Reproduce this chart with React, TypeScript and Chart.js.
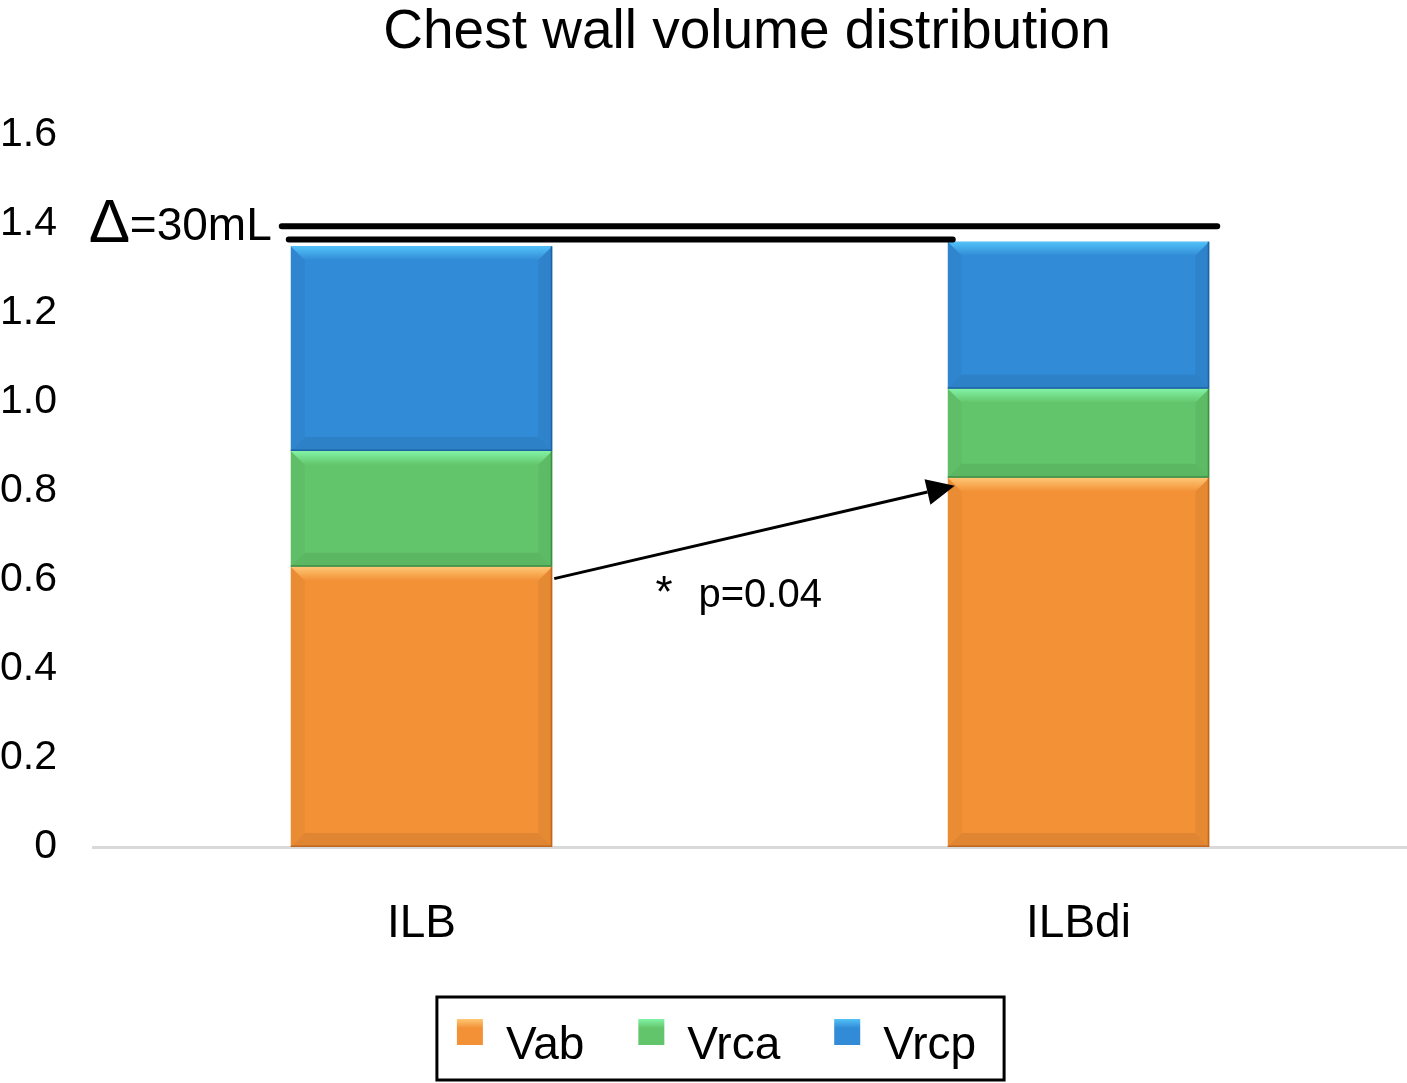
import { useEffect, useRef } from "react";
import { Chart, registerables, type Plugin } from "chart.js";

Chart.register(...registerables);

const FONT = "'Liberation Sans', Arial, Helvetica, sans-serif";

/* data (litres) */
const categories = ["ILB", "ILBdi"];
const seriesNames = ["Vab", "Vrca", "Vrcp"];
const vab = [0.63, 0.83];
const vrca = [0.26, 0.2];
const vrcp = [0.46, 0.33];
const yMax = 1.6;
const yStep = 0.2;
const deltaLevels = [1.395, 1.365]; // the two total lines
const deltaSymbol = "Δ";
const deltaText = "=30mL";
const starText = "*";
const pText = "p=0.04";
const titleText = "Chest wall volume distribution";

/* bevelled office-style fills */
const PALETTE = [
  { base: "#f29136", light: "#ffc775", dark: "#c0671f" },
  { base: "#63c56b", light: "#82f3a6", dark: "#3b8f44" },
  { base: "#318bd6", light: "#52c2f8", dark: "#1d62a3" },
];

type BarProps = { x: number; y: number; base: number; width: number };

function barRect(el: any) {
  const p = el.getProps(["x", "y", "base", "width"], true) as BarProps;
  return {
    l: p.x - p.width / 2,
    r: p.x + p.width / 2,
    t: Math.min(p.y, p.base),
    b: Math.max(p.y, p.base),
  };
}

const bevelPlugin: Plugin<"bar"> = {
  id: "bevel",
  afterDatasetsDraw(chart) {
    const ctx = chart.ctx;
    const e = 14;
    chart.data.datasets.forEach((_ds, di) => {
      const pal = PALETTE[di];
      chart.getDatasetMeta(di).data.forEach((el) => {
        const { l, r, t, b } = barRect(el);
        ctx.save();
        const g = ctx.createLinearGradient(0, t, 0, t + e);
        g.addColorStop(0, pal.light);
        g.addColorStop(1, pal.base);
        ctx.fillStyle = g;
        ctx.beginPath();
        ctx.moveTo(l, t);
        ctx.lineTo(r, t);
        ctx.lineTo(r - e, t + e);
        ctx.lineTo(l + e, t + e);
        ctx.closePath();
        ctx.fill();

        ctx.fillStyle = "rgba(0,0,0,0.03)";
        ctx.beginPath();
        ctx.moveTo(l, t);
        ctx.lineTo(l + e, t + e);
        ctx.lineTo(l + e, b - e);
        ctx.lineTo(l, b);
        ctx.closePath();
        ctx.fill();

        ctx.fillStyle = "rgba(0,0,0,0.05)";
        ctx.beginPath();
        ctx.moveTo(r, t);
        ctx.lineTo(r - e, t + e);
        ctx.lineTo(r - e, b - e);
        ctx.lineTo(r, b);
        ctx.closePath();
        ctx.fill();

        ctx.fillStyle = "rgba(0,0,0,0.07)";
        ctx.beginPath();
        ctx.moveTo(l, b);
        ctx.lineTo(l + e, b - e);
        ctx.lineTo(r - e, b - e);
        ctx.lineTo(r, b);
        ctx.closePath();
        ctx.fill();

        ctx.strokeStyle = pal.dark;
        ctx.lineWidth = 1.5;
        ctx.beginPath();
        ctx.moveTo(r - 0.75, t);
        ctx.lineTo(r - 0.75, b - 0.75);
        ctx.lineTo(l, b - 0.75);
        ctx.stroke();
        ctx.restore();
      });
    });
  },
};

const annotationPlugin: Plugin<"bar"> = {
  id: "annotations",
  afterDraw(chart) {
    const ctx = chart.ctx;
    const ys = chart.scales.y;
    const area = chart.chartArea;
    const vabBars = chart.getDatasetMeta(0).data.map(barRect);
    const [b0, b1] = vabBars;

    ctx.save();
    ctx.fillStyle = "#000";
    ctx.strokeStyle = "#000";

    // title
    ctx.font = `55px ${FONT}`;
    ctx.textAlign = "center";
    ctx.textBaseline = "alphabetic";
    ctx.fillText(titleText, (area.left + area.right) / 2 - 3, 48);

    // total lines
    const yUp = ys.getPixelForValue(deltaLevels[0]);
    const yLo = ys.getPixelForValue(deltaLevels[1]);
    ctx.lineWidth = 6;
    ctx.lineCap = "round";
    ctx.beginPath();
    ctx.moveTo(b0.l - 9, yUp);
    ctx.lineTo(b1.r + 8, yUp);
    ctx.moveTo(b0.l - 2, yLo);
    ctx.lineTo(b1.l + 5, yLo);
    ctx.stroke();

    // delta label
    ctx.textAlign = "left";
    ctx.font = `62px ${FONT}`;
    ctx.fillText(deltaSymbol, b0.l - 202, yUp + 16);
    ctx.textAlign = "right";
    ctx.font = `46px ${FONT}`;
    ctx.fillText(deltaText, b0.l - 19, yUp + 14);

    // arrow between abdominal compartments
    const sx = b0.r + 2;
    const sy = b0.t + 12;
    const tx = b1.l + 7;
    const ty = b1.t + 8;
    const ang = Math.atan2(ty - sy, tx - sx);
    const head = 28;
    const hw = 13;
    const bx = tx - head * Math.cos(ang);
    const by = ty - head * Math.sin(ang);
    ctx.lineWidth = 3;
    ctx.lineCap = "butt";
    ctx.beginPath();
    ctx.moveTo(sx, sy);
    ctx.lineTo(bx, by);
    ctx.stroke();
    ctx.beginPath();
    ctx.moveTo(tx, ty);
    ctx.lineTo(bx + hw * Math.sin(ang), by - hw * Math.cos(ang));
    ctx.lineTo(bx - hw * Math.sin(ang), by + hw * Math.cos(ang));
    ctx.closePath();
    ctx.fill();

    // significance label
    const mx = (sx + tx) / 2;
    const my = (sy + ty) / 2;
    ctx.textAlign = "left";
    ctx.font = `44px ${FONT}`;
    ctx.fillText(starText, mx - 99, my + 75);
    ctx.font = `40px ${FONT}`;
    ctx.fillText(pText, mx - 56, my + 75);

    // legend with frame
    ctx.font = `46px ${FONT}`;
    const box = 26;
    const gap = 23;
    const spacing = 54;
    const widths = seriesNames.map((n) => box + gap + ctx.measureText(n).width);
    const total = widths.reduce((a, w) => a + w, 0) + spacing * (widths.length - 1);
    let x = chart.width / 2 + 13 - total / 2;
    const frameTop = chart.height - 86;
    ctx.lineWidth = 3;
    ctx.strokeRect(x - 20, frameTop, total + 48, 83);
    ctx.textAlign = "left";
    ctx.textBaseline = "middle";
    seriesNames.forEach((n, i) => {
      const pal = PALETTE[i];
      const g = ctx.createLinearGradient(0, frameTop + 22, 0, frameTop + 22 + box);
      g.addColorStop(0, pal.light);
      g.addColorStop(0.35, pal.base);
      g.addColorStop(1, pal.base);
      ctx.fillStyle = g;
      ctx.fillRect(x, frameTop + 22, box, box);
      ctx.fillStyle = "#000";
      ctx.fillText(n, x + box + gap, frameTop + 49);
      x += widths[i] + spacing;
    });
    ctx.restore();
  },
};

export default function App() {
  const canvasRef = useRef<HTMLCanvasElement>(null);

  useEffect(() => {
    document.body.style.margin = "0";
    if (!canvasRef.current) return;
    const seriesValues = [vab, vrca, vrcp];
    const chart = new Chart(canvasRef.current, {
      type: "bar",
      data: {
        labels: categories,
        datasets: seriesNames.map((name, i) => ({
          label: name,
          data: seriesValues[i],
          backgroundColor: PALETTE[i].base,
          borderWidth: 0,
          barPercentage: 0.398,
          categoryPercentage: 1,
        })),
      },
      options: {
        responsive: true,
        maintainAspectRatio: false,
        animation: false,
        layout: { padding: { top: 135, bottom: 136, left: 0, right: 0 } },
        plugins: {
          legend: { display: false },
          title: { display: false },
          tooltip: { enabled: false },
        },
        scales: {
          x: {
            stacked: true,
            grid: { display: false, drawTicks: false },
            border: { display: true, color: "#d9d9d9", width: 3 },
            ticks: {
              color: "#000",
              font: { family: FONT, size: 46 },
              padding: 50,
            },
            afterFit: (scale) => {
              scale.height = 100;
            },
          },
          y: {
            stacked: true,
            min: 0,
            max: yMax,
            grid: { display: false, drawTicks: false },
            border: { display: false },
            ticks: {
              stepSize: yStep,
              color: "#000",
              font: { family: FONT, size: 41 },
              padding: 36,
              callback: (v) => (Number(v) === 0 ? "0" : Number(v).toFixed(1)),
            },
            afterFit: (scale) => {
              scale.width = 93;
            },
          },
        },
      },
      plugins: [bevelPlugin, annotationPlugin],
    });
    return () => chart.destroy();
  }, []);

  return (
    <div style={{ width: 1407, height: 1083, background: "#fff" }}>
      <canvas ref={canvasRef} />
    </div>
  );
}
